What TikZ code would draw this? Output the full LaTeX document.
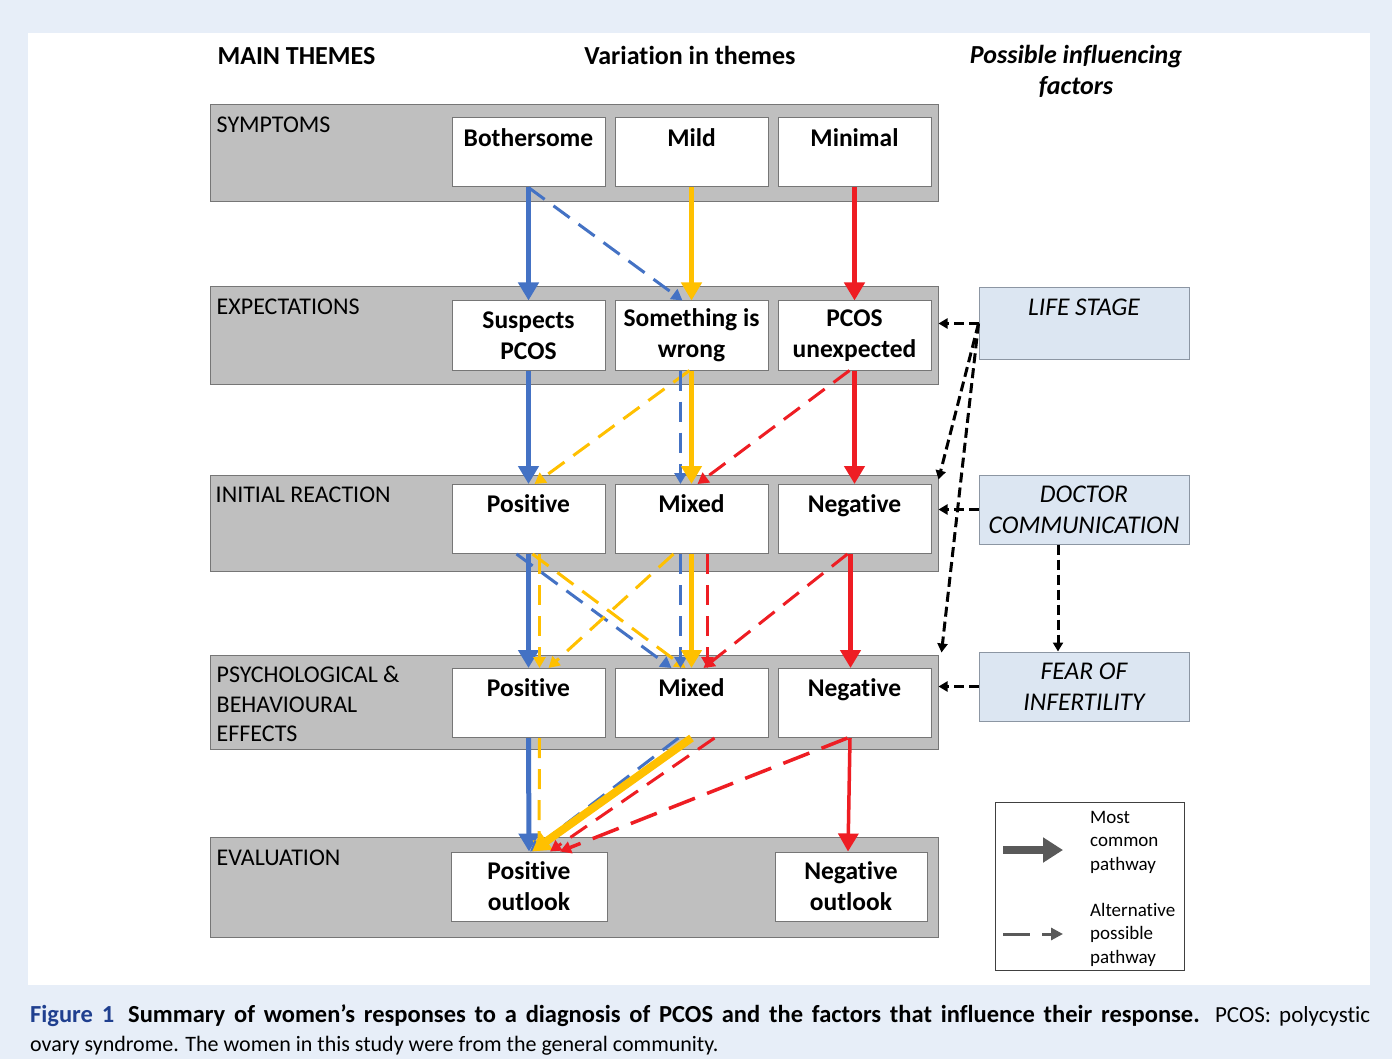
\documentclass[tikz,border=0pt]{standalone}
\usepackage{fontspec}
\setmainfont{Carlito}[Ligatures=NoCommon]
\usetikzlibrary{arrows.meta,calc,positioning}
\definecolor{pblue}{HTML}{4472C4}
\definecolor{pyellow}{HTML}{FFC000}
\definecolor{pred}{HTML}{EE1D23}
\definecolor{bandgray}{HTML}{BFBFBF}
\definecolor{bandline}{HTML}{767676}
\definecolor{factfill}{HTML}{DCE6F2}
\definecolor{factline}{HTML}{8C96A3}
\definecolor{legdark}{HTML}{595959}
\definecolor{pagebg}{HTML}{E7EEF8}
\definecolor{capblue}{HTML}{1F3F8F}
\tikzset{
        band/.style = {draw=bandline, fill=bandgray, line width=1pt,
            minimum width=728pt},
        bandtext/.style = {anchor=base west, align=left, inner sep=0pt,
            font=\fontsize{24}{29.5}\selectfont},
        choice/.style = {draw=bandline, fill=white, line width=1pt,
            minimum width=153pt, minimum height=69pt, inner sep=0pt,
            align=center, font=\bfseries\fontsize{25.5}{31}\selectfont},
        oneline/.style = {text depth=30pt},
        factor/.style = {draw=factline, fill=factfill, line width=1pt,
            minimum width=210pt, minimum height=69pt, inner sep=0pt,
            align=center, font=\itshape\fontsize{25.5}{31}\selectfont},
        heading/.style = {align=center, font=\bfseries\fontsize{26}{31}\selectfont},
        legtext/.style = {anchor=north west, align=left, inner sep=0pt,
            font=\fontsize{19}{23.5}\selectfont},
        main/.style = {line width=5pt, -{Triangle[width=20pt,length=18pt]}},
        alt/.style = {line width=3pt, dash pattern=on 20pt off 11pt,
            -{Triangle[width=12pt,length=11pt]}},
        infl/.style = {line width=3pt, dash pattern=on 10pt off 5pt,
            -{Triangle[width=10pt,length=9pt]}},
    }

\begin{document}
\begin{tikzpicture}[x=1pt,y=-1pt]
    % page and panel
    \fill[pagebg] (0,0) rectangle (1392,1059);
    \fill[white] (28,33) rectangle (1370,985);
    \useasboundingbox (0,0) rectangle (1392,1059);

    % headings
    \node[heading, anchor=west] (mainhd) at (214,56) {MAIN THEMES};
    \node[heading] (varhd) at (690,55) {Variation in themes};
    \node[heading, font=\bfseries\itshape\fontsize{26}{31}\selectfont] (infhd) at (1076,71) {Possible influencing\\factors};

    % theme bands
    \node[band, minimum height=97pt] (symb) at (574,153.5) {};
    \node[band, minimum height=97pt] (expb) at (574,335.5) {};
    \node[band, minimum height=96pt] (initb) at (574,523) {};
    \node[band, minimum height=94pt] (psyb) at (574,702) {};
    \node[band, minimum height=100pt] (evalb) at (574,887) {};
    \node[bandtext] (symt) at ($(symb.north west)+(7,28)$) {SYMPTOMS};
    \node[bandtext] (expt) at ($(expb.north west)+(7,28)$) {EXPECTATIONS};
    \node[bandtext] (initt) at ($(initb.north west)+(6,28)$) {INITIAL REACTION};
    \node[bandtext] (psyt) at ($(psyb.north west)+(7,87)$) {PSYCHOLOGICAL \&\\BEHAVIOURAL\\EFFECTS};
    \node[bandtext] (evalt) at ($(evalb.north west)+(7,29)$) {EVALUATION};

    % variation boxes
    \node[choice, oneline] (bother) at (528.5,152.5) {Bothersome};
    \node[choice, oneline, right=9pt of bother] (mild) {Mild};
    \node[choice, oneline, right=9pt of mild] (minimal) {Minimal};

    \node[choice] (susp) at (528.5,335.5) {Suspects\\PCOS};
    \node[choice, right=9pt of susp] (wrong) {Something is\\wrong};
    \node[choice, right=9pt of wrong] (unexp) {PCOS\\unexpected};

    \node[choice, oneline] (posA) at (528.5,519) {Positive};
    \node[choice, oneline, right=9pt of posA] (mixA) {Mixed};
    \node[choice, oneline, right=9pt of mixA] (negA) {Negative};

    \node[choice, oneline] (posB) at (528.5,703) {Positive};
    \node[choice, oneline, right=9pt of posB] (mixB) {Mixed};
    \node[choice, oneline, right=9pt of mixB] (negB) {Negative};

    \node[choice, minimum width=156pt] (posC) at (529,886.5) {Positive\\outlook};
    \node[choice, minimum width=152pt] (negC) at (851,886.5) {Negative\\outlook};

    % influencing factors
    \node[factor, minimum height=71pt, text depth=32pt] (life) at (1084,323.5) {LIFE STAGE};
    \node[factor] (doctor) at (1084,509.5) {DOCTOR\\COMMUNICATION};
    \node[factor] (fear) at (1084,686.5) {FEAR OF\\INFERTILITY};

    % symptoms -> expectations
    \draw[main, pblue] (bother.south) -- (susp.north);
    \draw[alt, pblue] (bother.south) -- ($(wrong.north)+(-9,0)$);
    \draw[main, pyellow] (mild.south) -- (wrong.north);
    \draw[main, pred] (minimal.south) -- (unexp.north);

    % expectations -> initial reaction
    \draw[main, pblue] (susp.south) -- (posA.north);
    \draw[alt, pyellow] ($(wrong.south)+(-2,0)$) -- ($(posA.north)+(6,0)$);
    \draw[alt, pblue] ($(wrong.south)+(-11,0)$) -- ($(mixA.north)+(-11,0)$);
    \draw[main, pyellow] (wrong.south) -- (mixA.north);
    \draw[alt, pred] ($(unexp.south)+(-5,0)$) -- ($(mixA.north)+(6,0)$);
    \draw[main, pred] (unexp.south) -- (negA.north);

    % initial reaction -> effects
    \draw[main, pblue] (posA.south) -- (posB.north);
    \draw[alt, pyellow] ($(posA.south)+(11,0)$) -- ($(posB.north)+(11,0)$);
    \draw[alt, pblue] ($(posA.south)+(-12,0)$) -- ($(mixB.north)+(-20,0)$);
    \draw[alt, pyellow] ($(posA.south)+(4,0)$) -- ($(mixB.north)+(-6,0)$);
    \draw[alt, pyellow] ($(mixA.south)+(-18,0)$) -- ($(posB.north)+(20,0)$);
    \draw[alt, pblue] ($(mixA.south)+(-11,0)$) -- ($(mixB.north)+(-11,0)$);
    \draw[main, pyellow] (mixA.south) -- (mixB.north);
    \draw[alt, pred] ($(mixA.south)+(16,0)$) -- ($(mixB.north)+(16,0)$);
    \draw[alt, pred] ($(negA.south)+(-7,0)$) -- ($(mixB.north)+(12,0)$);
    \draw[main, pred] ($(negA.south)+(-4,0)$) -- ($(negB.north)+(-4,0)$);

    % effects -> evaluation
    \draw[main, pblue] (posB.south) -- (posC.north);
    \draw[alt, pyellow] ($(posB.south)+(11,0)$) -- ($(posC.north)+(10,0)$);
    \draw[alt, pblue] ($(mixB.south)+(-13,0)$) -- ($(posC.north)+(1,0)$);
    \draw[main, pyellow, line width=8pt] (mixB.south) -- ($(posC.north)+(3,0)$);
    \draw[alt, pred] ($(mixB.south)+(23,0)$) -- ($(posC.north)+(21,0)$);
    \draw[alt, pred, line width=3.5pt, dash pattern=on 28pt off 13pt] ($(negB.south)+(-7,0)$) -- ($(posC.north)+(31,0)$);
    \draw[main, pred, line width=3.5pt] ($(negB.south)+(-4.5,0)$) -- ($(negC.north)+(-3,0)$);

    % factor links
    \draw[infl] (life.west) -- (life.west -| expb.east);
    \draw[infl] (life.west) -- ($(initb.north east)+(0,5)$);
    \draw[infl] (life.west) -- ($(psyb.north east)+(3,-2)$);
    \draw[infl] (doctor.west) -- (doctor.west -| initb.east);
    \draw[infl] ($(doctor.south)+(-26,0)$) -- ($(fear.north)+(-26,0)$);
    \draw[infl] (fear.west) -- (fear.west -| psyb.east);

    % legend
    \node[draw=black!75, line width=1pt, minimum width=189pt, minimum height=168pt] (legend) at (1089.5,886) {};
    \coordinate (lmainA) at (1003,850);
    \coordinate (lmainB) at (1063,850);
    \coordinate (laltA) at (1003,934);
    \coordinate (laltB) at (1063,934);
    \draw[legdark, line width=8pt, -{Triangle[width=24pt,length=20pt]}] (lmainA) -- (lmainB);
    \draw[legdark, line width=3pt, dash pattern=on 27pt off 12pt, -{Triangle[width=12pt,length=12pt]}] (laltA) -- (laltB);
    \node[legtext] (legmost) at (1090,811) {Most\\common\\pathway};
    \node[legtext] (legalt) at (1090,903) {Alternative\\possible\\pathway};

    % caption
    \node[anchor=north west, align=left, inner sep=0pt, font=\fontsize{22}{29}\selectfont] (caption) at (30,1004)
        {\makebox[1340pt][s]{{\fontsize{24.5}{29}\selectfont\color{capblue}\bfseries Figure 1}\hspace{14pt}{\fontsize{24.5}{29}\selectfont\bfseries Summary of women’s responses to a diagnosis of PCOS and the factors that influence their response.} {\fontsize{23}{29}\selectfont PCOS: polycystic}}\\
        ovary syndrome. The women in this study were from the general community.};
\end{tikzpicture}
\end{document}
